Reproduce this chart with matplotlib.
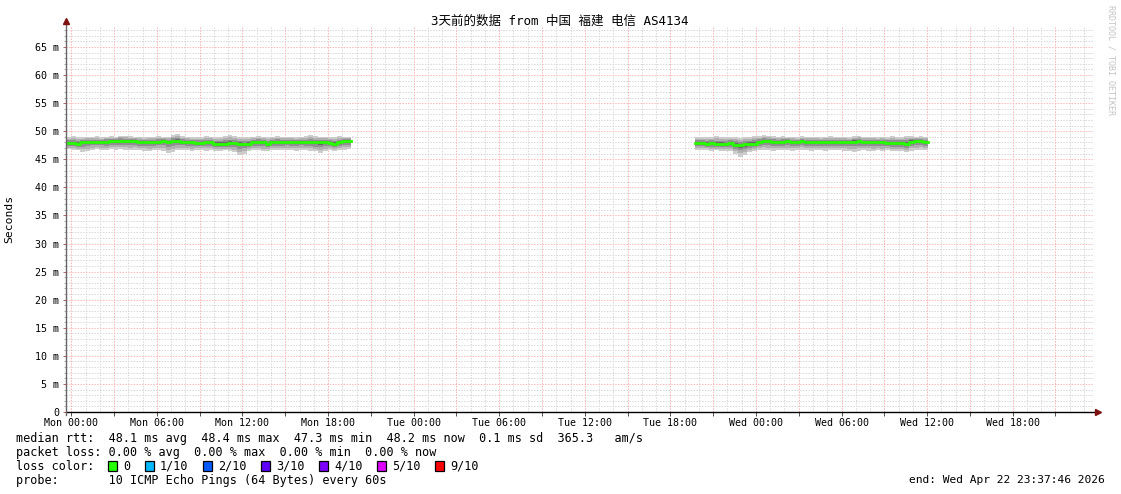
import matplotlib
matplotlib.use('Agg')
import matplotlib.pyplot as plt
from matplotlib.patches import Rectangle
from datetime import datetime, timedelta
import numpy as np

# 时间窗口: 结束时间往前 3 天
end_time = datetime(2026, 4, 22, 23, 37, 46)
start_time = end_time - timedelta(days=3)
step_h = 20 / 60  # 每个数据点 20 分钟

# 两段有数据的时间 (距离 start_time 的小时数)
seg1_start = 0.0
seg2_start = 44.1

# 中位数 rtt (ms)
seg1_median = [47.85, 47.85, 47.75, 48.05, 48.08, 48.10, 48.05, 48.10, 48.15, 48.30,
               48.30, 48.32, 48.25, 48.30, 48.20, 48.08, 48.05, 48.10, 48.08, 48.10,
               48.30, 48.10, 48.30, 48.28, 48.10, 48.05, 48.00, 47.85, 47.90, 48.05,
               48.08, 47.75, 47.72, 47.75, 47.88, 47.85, 47.72, 47.70, 47.78, 48.05,
               48.08, 48.00, 47.72, 48.05, 48.08, 48.05, 48.10, 48.05, 48.08, 48.10,
               48.05, 48.08, 48.00, 48.05, 48.08, 47.95, 47.80, 48.05, 48.20, 48.20]
# smoke 上下边界 (最大/最小 ping)
seg1_hi = [49.0, 49.1, 49.0, 48.9, 49.0, 49.0, 49.1, 48.9, 49.0, 49.1,
           49.0, 49.2, 49.15, 49.1, 49.0, 49.0, 48.9, 49.0, 49.0, 49.1,
           49.0, 49.0, 49.3, 49.5, 49.1, 49.0, 48.9, 49.0, 49.0, 49.1,
           49.0, 48.9, 49.0, 49.1, 49.3, 49.2, 49.0, 48.9, 49.0, 49.0,
           49.1, 49.0, 48.9, 49.0, 49.1, 49.0, 49.0, 49.0, 48.9, 49.0,
           49.1, 49.3, 49.1, 49.0, 49.0, 48.9, 49.0, 49.1, 49.0, 49.0]
seg1_lo = [46.8, 46.7, 46.6, 46.3, 46.4, 46.7, 46.8, 46.7, 46.6, 46.8,
           46.7, 46.8, 46.7, 46.6, 46.7, 46.6, 46.5, 46.4, 46.6, 46.7,
           46.5, 46.1, 46.3, 46.6, 46.7, 46.6, 46.5, 46.7, 46.6, 46.5,
           46.6, 46.4, 46.4, 46.6, 46.5, 46.3, 45.8, 46.0, 46.5, 46.6,
           46.7, 46.5, 46.4, 46.6, 46.7, 46.6, 46.7, 46.6, 46.5, 46.7,
           46.6, 46.5, 46.4, 46.1, 46.4, 46.6, 46.5, 46.6, 46.7, 46.8]

seg2_median = [47.85, 47.85, 47.80, 47.85, 47.73, 47.75, 47.73, 47.90, 47.60, 47.50,
               47.70, 47.73, 47.75, 48.05, 48.30, 48.30, 48.08, 48.10, 48.08, 48.30,
               48.10, 48.08, 48.30, 48.08, 48.05, 48.08, 48.05, 48.08, 48.05, 48.08,
               48.05, 48.08, 48.05, 48.15, 48.20, 48.08, 48.05, 48.08, 48.05, 48.00,
               47.88, 47.85, 47.88, 47.85, 47.75, 48.15, 48.20, 48.20, 48.10]
seg2_hi = [49.0, 49.0, 48.9, 49.0, 49.1, 49.0, 48.9, 49.0, 48.9, 48.8,
           49.0, 49.0, 49.1, 49.2, 49.3, 49.2, 49.1, 49.0, 49.1, 49.0,
           49.0, 48.9, 49.1, 49.0, 49.0, 49.0, 48.9, 49.0, 49.1, 49.0,
           49.0, 49.0, 48.9, 49.1, 49.2, 49.0, 49.0, 49.0, 48.9, 49.0,
           49.0, 49.1, 49.0, 49.0, 49.2, 49.1, 49.0, 49.1, 49.0]
seg2_lo = [46.6, 46.7, 46.6, 46.5, 46.6, 46.5, 46.4, 46.5, 46.0, 45.5,
           45.8, 46.3, 46.5, 46.6, 46.7, 46.6, 46.5, 46.6, 46.7, 46.6,
           46.5, 46.6, 46.7, 46.6, 46.5, 46.6, 46.6, 46.5, 46.6, 46.7,
           46.6, 46.5, 46.4, 46.3, 46.5, 46.6, 46.5, 46.4, 46.6, 46.5,
           46.6, 46.5, 46.4, 46.5, 46.3, 46.5, 46.6, 46.7, 46.6]

loss_labels = ['0', '1/10', '2/10', '3/10', '4/10', '5/10', '9/10']
loss_colors = ['#26ff00', '#00b8ff', '#0059ff', '#5e00ff', '#7e00ff', '#dd00ff', '#ff0000']

title = '3天前的数据 from 中国 福建 电信 AS4134'
stats_lines = [
    'median rtt:  48.1 ms avg  48.4 ms max  47.3 ms min  48.2 ms now  0.1 ms sd  365.3   am/s',
    'packet loss: 0.00 % avg  0.00 % max  0.00 % min  0.00 % now',
    'loss color:',
    'probe:       10 ICMP Echo Pings (64 Bytes) every 60s',
]

plt.rcParams['font.family'] = ['DejaVu Sans Mono', 'Noto Sans CJK SC']

W, H = 1121, 494
fig = plt.figure(figsize=(W / 100, H / 100), dpi=100)
fig.patch.set_facecolor('white')
ax = fig.add_axes([66 / W, 82 / H, 1027 / W, 385 / H])

total_h = 72.0
ymax = 385 / 5.615
ax.set_xlim(0, total_h)
ax.set_ylim(0, ymax)


def hours(t):
    return (t - start_time).total_seconds() / 3600


first_midnight = datetime(2026, 4, 20, 0, 0)
hour_lines = [hours(first_midnight + timedelta(hours=k)) for k in range(72)]
hour_lines = [h for h in hour_lines if h < total_h]
red_lines = hour_lines[::3]
label_times = [first_midnight + timedelta(hours=6 * k) for k in range(12)]

# 网格: 灰色细网格 + 红色主网格
dot = (0, (1.4, 1.4))
ax.vlines([h for h in hour_lines if h not in red_lines], 0, ymax,
          colors='#d8d8d8', lw=0.72, linestyles=dot, zorder=1)
ax.hlines([v for v in range(1, 69) if v % 5], 0, total_h,
          colors='#d8d8d8', lw=0.72, linestyles=dot, zorder=1)
ax.vlines(red_lines, 0, ymax, colors='#ffb0b0', lw=0.72, linestyles=dot, zorder=2)
ax.hlines(list(range(5, 70, 5)), 0, total_h, colors='#ffb8b8', lw=0.72,
          linestyles=dot, zorder=2)

# smoke 和中位数线
layers = [(1.0, '#cccccc'), (0.72, '#b0b0b0'), (0.45, '#909090'), (0.22, '#6a6a6a')]
for s0, med, lo, hi in [(seg1_start, seg1_median, seg1_lo, seg1_hi),
                        (seg2_start, seg2_median, seg2_lo, seg2_hi)]:
    med = np.array(med)
    lo = np.array(lo)
    hi = np.array(hi)
    edges = s0 + np.arange(len(med) + 1) * step_h
    for f, c in layers:
        top = med + (hi - med) * f
        bot = med - (med - lo) * f
        ax.fill_between(edges, np.append(bot, bot[-1]), np.append(top, top[-1]),
                        step='post', color=c, lw=0, zorder=3)
    ax.step(edges, np.append(med, med[-1]), where='post', color=loss_colors[0],
            lw=2.0, zorder=4)

for s in ax.spines.values():
    s.set_visible(False)

# 坐标轴与箭头
ax.plot([0, 1 + 4 / 1027], [0, 0], transform=ax.transAxes, color='black',
        lw=1.0, clip_on=False, zorder=5)
ax.plot([0, 0], [-3 / 385, 1 + 4 / 385], transform=ax.transAxes, color='#666666',
        lw=1.0, clip_on=False, zorder=5)
ax.plot(1 + 5 / 1027, 0, marker='>', ms=4.5, color='#7f1010', mec='#7f1010',
        transform=ax.transAxes, clip_on=False, zorder=6)
ax.plot(0, 1 + 6 / 385, marker='^', ms=4.5, color='#7f1010', mec='#7f1010',
        transform=ax.transAxes, clip_on=False, zorder=6)

ax.set_xticks([hours(t) for t in label_times],
              [t.strftime('%a %H:%M') for t in label_times])
ax.set_xticks(red_lines, minor=True)
ax.set_yticks(list(range(0, 70, 5)), ['0'] + [f'{v} m' for v in range(5, 70, 5)])
ax.set_yticks(list(range(1, 69)), minor=True)
ax.tick_params(axis='x', which='both', length=3, width=0.7, color='#555555',
               pad=1.5, labelsize=7.2)
ax.tick_params(axis='y', which='major', length=2.5, width=0.7, color='#c06060',
               pad=2.5, labelsize=7.2)
ax.tick_params(axis='y', which='minor', length=1.5, width=0.7, color='#aaaaaa')

ax.set_ylabel('Seconds', fontsize=8.2)
ax.yaxis.set_label_coords(-52 / 1027, (412 - 219) / 385)

fig.text(560 / W, 1 - 21 / H, title, ha='center', va='center', fontsize=9)
fig.text(1111 / W, 1 - 5 / H, 'RRDTOOL / TOBI OETIKER', rotation=270,
         ha='center', va='top', fontsize=6, color='#c4c4c4')

# 图例文字
line_y = [438, 452, 466, 480]
for txt, y in zip(stats_lines, line_y):
    fig.text(16 / W, 1 - y / H, txt, ha='left', va='center', fontsize=8.5)
fig.text(1105 / W, 1 - 480 / H, 'end: ' + end_time.strftime('%a %b %d %H:%M:%S %Y'),
         ha='right', va='center', fontsize=8.1)

box_x = [108, 145, 203, 261, 319, 377, 435]
for bx, lab, c in zip(box_x, loss_labels, loss_colors):
    fig.add_artist(Rectangle((bx / W, 1 - 471 / H), 9 / W, 10 / H,
                             transform=fig.transFigure, facecolor=c,
                             edgecolor='black', lw=0.9))
    fig.text((bx + 15) / W, 1 - 466 / H, lab, ha='left', va='center', fontsize=8.5)

fig.savefig('out.png', dpi=100, facecolor='white')
